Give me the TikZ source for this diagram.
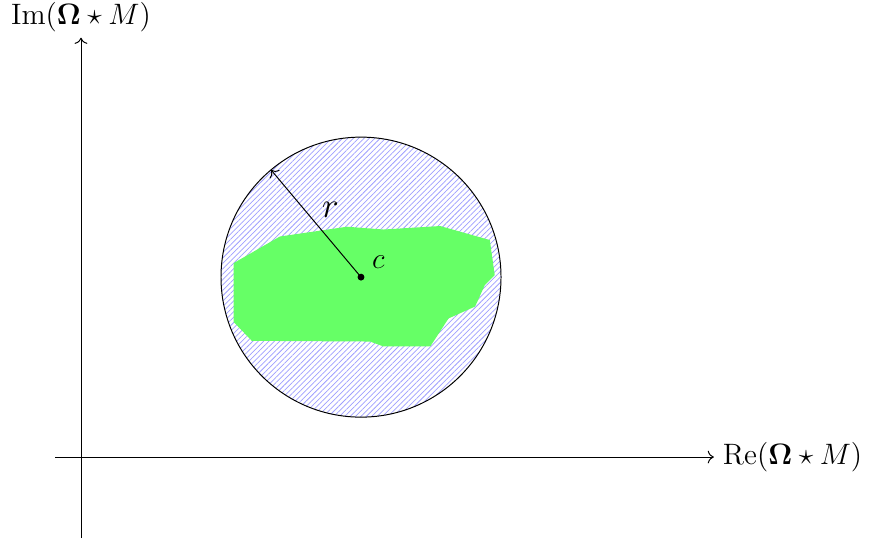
\documentclass[tikz,border=0pt]{standalone}
\usepackage{amsmath}
\usepackage{tikz}
\usetikzlibrary{patterns.meta, arrows.meta, positioning, calc}
\colorlet{hatchblue}{blue!38}
\colorlet{setgreen}{green!60}

\begin{document}
\begin{tikzpicture}[
  axis/.style={->},
  axislabel/.style={font=\large, inner sep=2pt},
  disk/.style={circle, draw, inner sep=0pt, outer sep=0pt, minimum size=4cm,
    pattern={Lines[angle=45, distance=1.55pt, line width=0.3pt]}, pattern color=hatchblue},
  region/.style={fill=setgreen, draw=none},
  radius/.style={->}]
  \useasboundingbox (-1.157,-1.186) rectangle (11.271,6.529);
  % axes
  \coordinate (xmin) at (-0.37,0);
  \coordinate (xmax) at (9.04,0);
  \coordinate (ymin) at (0,-1.16);
  \coordinate (ymax) at (0,5.99);
  \draw[axis] (xmin) -- (xmax);
  \draw[axis] (ymin) -- (ymax);
  \node[axislabel, right=1.5pt of xmax] (relabel) {$\operatorname{Re}(\mathbf{\Omega}\star M)$};
  \node[axislabel, above=0pt of ymax] (imlabel) {$\operatorname{Im}(\mathbf{\Omega}\star M)$};
  % disk around the centre c
  \coordinate (c) at (4,2.57);
  \node[disk] (ball) at (c) {};
  \fill[region] (2.18,2.77) -- (2.84,3.15) -- (3.80,3.29) -- (4.32,3.25)
    -- (5.13,3.30) -- (5.84,3.10) -- (5.91,2.60) -- (5.77,2.46) -- (5.63,2.15)
    -- (5.25,1.98) -- (4.99,1.58) -- (4.32,1.58) -- (4.13,1.65) -- (2.44,1.66)
    -- (2.18,1.93) -- cycle;
  \draw[radius] (c) -- node[above right=-1pt and -1pt, font=\Large] (rlabel) {$r$} (ball.130);
  \fill (c) circle (1.4pt);
  \node[above right=0pt and 1pt of c, font=\large] (clabel) {$c$};
\end{tikzpicture}
\end{document}
